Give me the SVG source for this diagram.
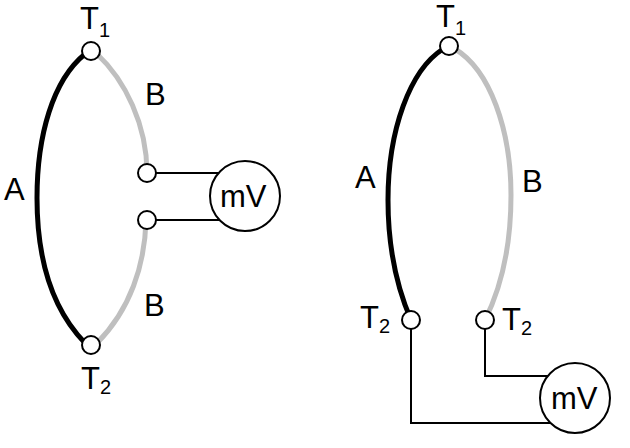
<svg xmlns="http://www.w3.org/2000/svg" width="630" height="448" viewBox="0 0 630 448">
<style>
text{font-family:"Liberation Sans",Arial,sans-serif;font-size:31px;fill:#000}
.s{font-size:20px}
.a{fill:none;stroke:#000;stroke-width:5}
.b{fill:none;stroke:#bfbfbf;stroke-width:5}
.w{fill:none;stroke:#000;stroke-width:2}
.n{fill:#fff;stroke:#000;stroke-width:2}
</style>
<rect width="630" height="448" fill="#fff"/>
<g id="connectors">
<path class="a" d="M85 54C53 80 37 135 37 198C37 260 53 310 85 343"/>
<path class="b" d="M97 54C125 80 147 125 147 173"/>
<path class="b" d="M146 220C145 265 130 310 97 343"/>
<path class="w" d="M147 173H225M147 220H225"/>
<path class="a" d="M443 49C410 70 388 130 388 200C388 250 398 290 411 320"/>
<path class="b" d="M455 49C490 70 511 130 511 195C511 250 500 290 485 320"/>
<path class="w" d="M411 320V423H555M485 320V376H555"/>
</g>
<g id="t1-left"><circle class="n" cx="91" cy="51" r="9"/><text x="80" y="29">T</text><text class="s" x="99" y="37">1</text></g>
<g id="t2-left"><circle class="n" cx="91" cy="345" r="9"/><text x="81" y="389">T</text><text class="s" x="100" y="394">2</text></g>
<g id="j1"><circle class="n" cx="147" cy="173" r="9"/></g>
<g id="j2"><circle class="n" cx="147" cy="220" r="9"/></g>
<g id="mv-left"><circle class="n" cx="245" cy="196" r="35"/><text x="220" y="207">mV</text></g>
<g id="labels-left"><text x="4" y="200">A</text><text x="145" y="105">B</text><text x="144" y="316">B</text></g>
<g id="t1-right"><circle class="n" cx="449" cy="46" r="9"/><text x="436" y="27">T</text><text class="s" x="455" y="35">1</text></g>
<g id="t2-a"><circle class="n" cx="411" cy="320" r="9"/><text x="360" y="328">T</text><text class="s" x="379" y="333">2</text></g>
<g id="t2-b"><circle class="n" cx="485" cy="320" r="9"/><text x="502" y="330">T</text><text class="s" x="521" y="335">2</text></g>
<g id="mv-right"><circle class="n" cx="575" cy="398" r="35"/><text x="551" y="409">mV</text></g>
<g id="labels-right"><text x="355" y="188">A</text><text x="522" y="192">B</text></g>
</svg>
